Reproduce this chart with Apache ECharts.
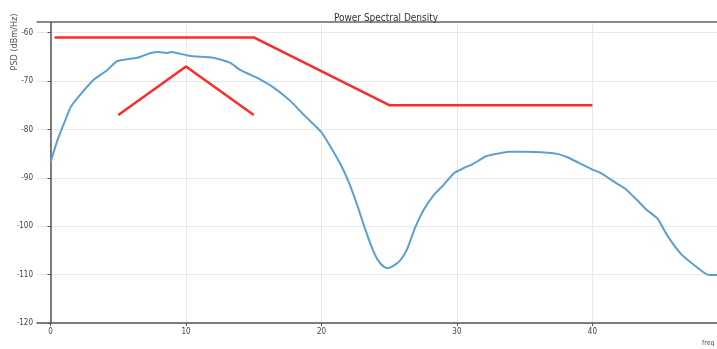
<!DOCTYPE html>
<html>
<head>
<meta charset="utf-8">
<script src="https://cdn.jsdelivr.net/npm/echarts@6/dist/echarts.min.js"></script>
<style>
html,body{margin:0;padding:0;background:#fff;}
#c{width:717px;height:349px;}
</style>
</head>
<body>
<div id="c"></div>
<script>
// ---- data ----
var psdFreq = [0.0, 0.5, 1.1, 1.5, 2.2, 3.2, 4.2, 4.9, 5.4, 6.4, 6.9, 7.4, 7.9, 8.6, 8.9, 10.1, 11.1, 11.8, 12.6, 13.3, 14.0, 15.5, 16.5, 17.7, 18.7, 19.7, 20.05, 20.8, 21.5, 22.0, 22.6, 23.25, 23.9, 24.35, 24.85, 25.3, 25.8, 26.3, 26.9, 27.55, 28.3, 29.0, 29.8, 30.5, 31.2, 32.2, 33.2, 33.9, 35.0, 36.7, 37.5, 38.2, 39.0, 40.0, 40.6, 41.6, 42.4, 43.3, 44.0, 44.8, 45.5, 46.5, 47.5, 48.5, 49.2];
var psdValue = [-86.8, -82.3, -78.0, -75.3, -72.8, -69.7, -67.7, -65.9, -65.6, -65.2, -64.7, -64.2, -64.0, -64.2, -64.0, -64.7, -65.0, -65.1, -65.6, -66.3, -67.7, -69.7, -71.4, -74.1, -77.0, -79.7, -80.8, -84.2, -87.7, -90.8, -95.3, -100.8, -105.6, -107.7, -108.7, -108.2, -107.1, -104.9, -100.4, -96.6, -93.5, -91.5, -89.0, -88.0, -87.1, -85.5, -84.9, -84.6, -84.6, -84.8, -85.1, -85.8, -86.9, -88.3, -89.0, -90.8, -92.2, -94.6, -96.6, -98.4, -101.8, -105.6, -108.0, -110.0, -110.1];
var maskFreq = [0.3, 15, 25, 40];
var maskLevel = [-61, -61, -75, -75];
var triFreq = [5, 10, 15];
var triLevel = [-77, -67, -77];
var xTicks = [0, 10, 20, 30, 40];
var yTicks = [-120, -110, -100, -90, -80, -70, -60];
var titleText = 'Power Spectral Density';
var yLabel = 'PSD (dBm/Hz)';
var xLabel = 'freq (MHz)';

function pairs(xs, ys) { return xs.map(function (x, i) { return [x, ys[i]]; }); }

var font = '"Liberation Sans Narrow", "DejaVu Sans Condensed", sans-serif';
var chart = echarts.init(document.getElementById('c'), null, {renderer: 'canvas'});
chart.setOption({
  animation: false,
  backgroundColor: '#ffffff',
  title: {
    text: titleText, left: 381, top: 8, textAlign: 'center',
    textStyle: {fontFamily: font, fontSize: 10, fontWeight: 'normal', color: '#333'}
  },
  grid: {left: 37, right: 0, top: 22, bottom: 26, containLabel: false},
  xAxis: [{
    type: 'value', min: -1, max: 49.2,
    axisLine: {show: true, lineStyle: {color: '#555', width: 1.5}},
    axisTick: {show: true, length: 3, lineStyle: {color: '#555'}, customValues: xTicks},
    axisLabel: {fontFamily: font, fontSize: 8, color: '#444', margin: 5, customValues: xTicks},
    splitLine: {show: true, lineStyle: {color: '#e8e8e8', width: 1}}
  }, {
    type: 'value', position: 'top', min: -1, max: 49.2,
    axisLine: {show: true, lineStyle: {color: '#666', width: 1.5}},
    axisTick: {show: false}, axisLabel: {show: false}, splitLine: {show: false}
  }],
  yAxis: {
    type: 'value', min: -120, max: -57.8, interval: 10,
    axisLine: {show: true, lineStyle: {color: '#555', width: 1.5}},
    axisTick: {show: true, length: 3, lineStyle: {color: '#555'}, customValues: yTicks},
    axisLabel: {fontFamily: font, fontSize: 8, color: '#444', margin: 4, customValues: yTicks},
    splitLine: {show: true, lineStyle: {color: '#e8e8e8', width: 1}}
  },
  graphic: [
    {type: 'text', x: 15, y: 42, rotation: Math.PI / 2,
     style: {text: yLabel, fontFamily: font, fontSize: 9, fill: '#555', textAlign: 'center', textVerticalAlign: 'middle'}},
    {type: 'text', x: 702, y: 343,
     style: {text: xLabel, fontFamily: font, fontSize: 7, fill: '#555', textAlign: 'left', textVerticalAlign: 'middle'}}
  ],
  series: [
    {type: 'line', data: pairs(psdFreq, psdValue), showSymbol: false, smooth: 0.2,
     lineStyle: {color: '#5b9fd4', width: 2}, z: 2},
    {type: 'line', data: pairs(maskFreq, maskLevel), showSymbol: false,
     lineStyle: {color: '#ff2b2b', width: 2.5}, z: 3},
    {type: 'line', data: pairs(triFreq, triLevel), showSymbol: false,
     lineStyle: {color: '#ff2b2b', width: 2.5}, z: 3}
  ]
});
</script>
</body>
</html>
